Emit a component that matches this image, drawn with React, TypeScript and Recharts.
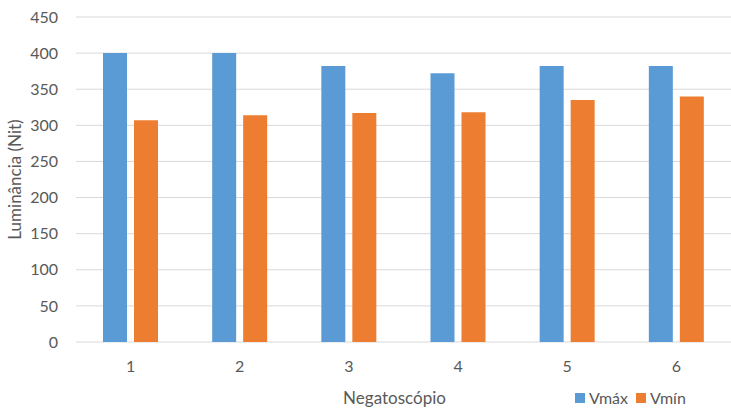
import React from "react"
import {
  Bar,
  BarChart,
  CartesianGrid,
  XAxis,
  YAxis,
} from "recharts"

// Negatoscope luminance, max / min readings
const negatoscopes = ["1", "2", "3", "4", "5", "6"]
const vMax = [400, 400, 382, 372, 382, 382]
const vMin = [307, 314, 317, 318, 335, 340]
const yTicks = [0, 50, 100, 150, 200, 250, 300, 350, 400, 450]

const series = [
  { key: "vmax", label: "Vmáx", color: "#5B9BD5" },
  { key: "vmin", label: "Vmín", color: "#ED7D31" },
]

const data = negatoscopes.map((name, i) => ({
  name,
  vmax: vMax[i],
  vmin: vMin[i],
}))

const FONT = "Lato, 'Open Sans', sans-serif"
const TEXT = "#595959"

const YLabel = (props: any) => {
  const { viewBox } = props
  const cy = viewBox.y + viewBox.height / 2
  const cx = 14
  return (
    <text
      x={cx}
      y={cy}
      transform={`rotate(-90, ${cx}, ${cy})`}
      textAnchor="middle"
      dominantBaseline="central"
      fill={TEXT}
      fontSize={17}
      fontFamily={FONT}
    >
      Luminância (Nit)
    </text>
  )
}

const XLabel = (props: any) => {
  const { viewBox } = props
  const cx = viewBox.x + viewBox.width / 2 - 9
  return (
    <text
      x={cx}
      y={397}
      textAnchor="middle"
      dominantBaseline="central"
      fill={TEXT}
      fontSize={17}
      fontFamily={FONT}
    >
      Negatoscópio
    </text>
  )
}

export default function App() {
  return (
    <div style={{ position: "absolute", left: 0, top: 0, width: 731, height: 419, background: "#fff" }}>
      <BarChart
        width={731}
        height={419}
        data={data}
        margin={{ top: 17, right: 0, left: 0, bottom: 0 }}
        barSize={24}
        barGap={7}
      >
        <CartesianGrid vertical={false} stroke="#d9d9d9" strokeWidth={1} />
        <XAxis
          dataKey="name"
          height={77}
          axisLine={false}
          tickLine={false}
          tickSize={0}
          tickMargin={19}
          tick={{ fill: TEXT, fontSize: 16, fontFamily: FONT }}
          label={<XLabel />}
        />
        <YAxis
          width={76}
          domain={[0, 450]}
          ticks={yTicks}
          axisLine={false}
          tickLine={false}
          tickSize={0}
          tickMargin={18}
          tick={{ fill: TEXT, fontSize: 16, fontFamily: FONT }}
          label={<YLabel />}
        />
        {series.map((s) => (
          <Bar key={s.key} dataKey={s.key} name={s.label} fill={s.color} isAnimationActive={false} />
        ))}
      </BarChart>
      <div
        style={{
          position: "absolute",
          left: 575,
          top: 388,
          display: "flex",
          alignItems: "center",
          gap: 8,
          fontFamily: FONT,
          fontSize: 16,
          color: TEXT,
        }}
      >
        {series.map((s) => (
          <span key={s.key} style={{ display: "flex", alignItems: "center", gap: 4 }}>
            <span style={{ width: 10, height: 10, background: s.color, display: "inline-block" }} />
            <span>{s.label}</span>
          </span>
        ))}
      </div>
    </div>
  )
}
